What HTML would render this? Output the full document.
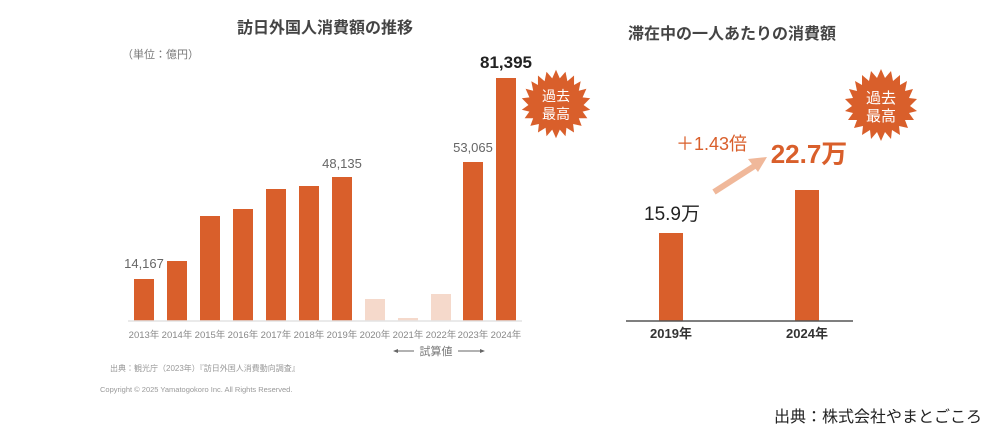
<!DOCTYPE html>
<html><head><meta charset="utf-8"><style>
body{margin:0;background:#fff;}
svg text{font-family:"Liberation Sans","Noto Sans CJK JP",sans-serif;}
</style></head><body>
<svg width="1000" height="439" viewBox="0 0 1000 439" xmlns="http://www.w3.org/2000/svg">
<defs>
<polygon id="star" points="
0,-36 4,-27 10,-34 12,-24 19,-30 19,-20 26,-24 24,-14 32,-16 28,-7 36,-6 29,1 36,6 28,8 33,15 24,15 27,23 18,21 19,30 11,25 10,34 4,27 0,36 -4,27 -10,34 -11,25 -19,30 -18,21 -27,23 -24,15 -33,15 -28,8 -36,6 -29,1 -36,-6 -28,-7 -32,-16 -24,-14 -26,-24 -19,-20 -19,-30 -12,-24 -10,-34 -4,-27" fill="#d95f2b"/>
</defs>
<text x="325" y="33" font-size="16" font-weight="bold" fill="#444" text-anchor="middle">訪日外国人消費額の推移</text>
<text x="122" y="58" font-size="11" fill="#777">（単位：億円）</text>
<g fill="#d95f2b">
<rect x="134" y="279" width="20" height="42"/>
<rect x="167" y="261" width="20" height="60"/>
<rect x="200" y="216" width="20" height="105"/>
<rect x="233" y="209" width="20" height="112"/>
<rect x="266" y="189" width="20" height="132"/>
<rect x="299" y="186" width="20" height="135"/>
<rect x="332" y="177" width="20" height="144"/>
<rect x="463" y="162" width="20" height="159"/>
<rect x="496" y="78" width="20" height="243"/>
</g>
<g fill="#f5d9cb">
<rect x="365" y="299" width="20" height="22"/>
<rect x="398" y="318" width="20" height="3"/>
<rect x="431" y="294" width="20" height="27"/>
</g>
<line x1="128" y1="321" x2="522" y2="321" stroke="#e4e4e4" stroke-width="1.5"/>
<g font-size="9.5" fill="#888" text-anchor="middle">
<text x="144" y="338">2013年</text><text x="177" y="338">2014年</text><text x="210" y="338">2015年</text><text x="243" y="338">2016年</text><text x="276" y="338">2017年</text><text x="309" y="338">2018年</text><text x="342" y="338">2019年</text><text x="375" y="338">2020年</text><text x="408" y="338">2021年</text><text x="441" y="338">2022年</text><text x="473" y="338">2023年</text><text x="506" y="338">2024年</text>
</g>
<text x="436" y="355" font-size="11" fill="#777" text-anchor="middle">試算値</text>
<line x1="394" y1="351" x2="414" y2="351" stroke="#666"/><polygon points="393,351 398,349 398,353" fill="#666"/>
<line x1="458" y1="351" x2="483" y2="351" stroke="#666"/><polygon points="485,351 480,349 480,353" fill="#666"/>
<text x="110" y="371" font-size="8" fill="#999">出典：観光庁（2023年）『訪日外国人消費動向調査』</text>
<text x="100" y="392" font-size="7.5" fill="#999">Copyright © 2025 Yamatogokoro Inc. All Rights Reserved.</text>
<g font-size="13" fill="#666" text-anchor="middle">
<text x="144" y="268">14,167</text><text x="342" y="168">48,135</text><text x="473" y="152">53,065</text>
</g>
<text x="506" y="68" font-size="17" font-weight="bold" fill="#222" text-anchor="middle">81,395</text>
<use href="#star" transform="translate(556,104) scale(0.95)"/>
<text x="556" y="101" font-size="14" fill="#fff" text-anchor="middle">過去</text>
<text x="556" y="119" font-size="14" fill="#fff" text-anchor="middle">最高</text>

<text x="628" y="39" font-size="16" font-weight="bold" fill="#444">滞在中の一人あたりの消費額</text>
<use href="#star" transform="translate(881,105)"/>
<text x="881" y="103" font-size="15" fill="#fff" text-anchor="middle">過去</text>
<text x="881" y="121" font-size="15" fill="#fff" text-anchor="middle">最高</text>
<rect x="659" y="233" width="24" height="88" fill="#d95f2b"/>
<rect x="795" y="190" width="24" height="131" fill="#d95f2b"/>
<line x1="626" y1="321" x2="853" y2="321" stroke="#555" stroke-width="1.5"/>
<text x="671" y="338" font-size="13" font-weight="bold" fill="#333" text-anchor="middle">2019年</text>
<text x="807" y="338" font-size="13" font-weight="bold" fill="#333" text-anchor="middle">2024年</text>
<text x="672" y="220" font-size="19" fill="#222" text-anchor="middle">15.9万</text>
<text x="809" y="163" font-size="26" font-weight="bold" fill="#d95f2b" text-anchor="middle">22.7万</text>
<text x="676" y="150" font-size="18" fill="#d95f2b">＋1.43倍</text>
<line x1="714" y1="192" x2="756" y2="165" stroke="#f0b89a" stroke-width="6"/>
<polygon points="767,157 748,159 758,172" fill="#f0b89a"/>
<text x="774" y="422" font-size="16" fill="#222">出典：株式会社やまとごころ</text>
</svg>
</body></html>
